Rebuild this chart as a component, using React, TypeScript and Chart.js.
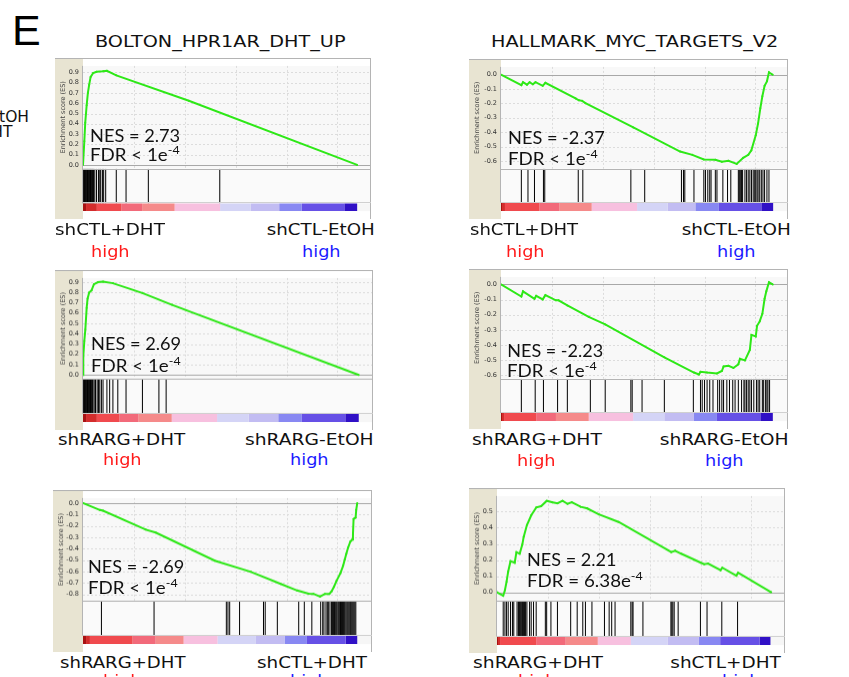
import React, { useEffect, useLayoutEffect, useRef } from 'react';
import { Chart, registerables } from 'chart.js';

Chart.register(...registerables);

// ---------------- DATA ----------------
// Ranks are in thousands of genes in the ordered list.
const titles = ['BOLTON_HPR1AR_DHT_UP', 'HALLMARK_MYC_TARGETS_V2'];

const p1Rank = [0, 0.13, 0.22, 0.36, 0.48, 0.61, 0.75, 1.0, 1.33, 1.97, 2.35, 3.27, 10.4, 26.94];
const p1Es = [0, 0.23, 0.41, 0.58, 0.7, 0.78, 0.856, 0.894, 0.906, 0.911, 0.915, 0.871, 0.624, 0];
const p1Hits = [0.02, 0.08, 0.14, 0.2, 0.26, 0.32, 0.38, 0.44, 0.5, 0.56, 0.62, 0.68, 0.74, 0.8, 0.86, 0.92, 0.98, 1.04,
  1.16, 1.33, 1.52, 1.65, 1.74, 1.91, 2.03, 2.23, 3.27, 4.23, 6.42, 13.44];
const p1Bar = [0, 0.3, 1.36, 3.78, 5.81, 9.0, 13.47, 16.47, 19.28, 21.5, 25.68, 26.94];

const p2Rank = [0, 2.0, 2.16, 2.55, 2.81, 3.13, 3.39, 4.1, 4.36, 7.33, 7.65, 7.98, 8.3, 13.0, 17.6, 18.8, 19.93, 21.06,
  21.7, 22.35, 23.16, 23.8, 24.3, 24.6, 25.03, 25.26, 25.48, 25.68, 25.9, 26.13, 26.33, 26.7];
const p2Es = [0, -0.073, -0.052, -0.069, -0.052, -0.067, -0.052, -0.077, -0.056, -0.165, -0.178, -0.182, -0.198, -0.367,
  -0.535, -0.558, -0.59, -0.593, -0.606, -0.6, -0.621, -0.579, -0.558, -0.527, -0.422, -0.339, -0.234, -0.15, -0.077,
  -0.046, 0.017, 0];
const p2Hits = [2.0, 2.65, 3.29, 4.17, 4.3, 7.59, 8.04, 12.76, 14.12, 17.73, 17.93, 18.06, 18.96, 19.93, 20.09, 20.32,
  20.51, 20.64, 21.06, 21.22, 21.8, 22.26, 22.58, 23.32, 23.42, 23.55, 23.64, 23.74, 23.97, 24.13, 24.29, 24.45, 24.61,
  24.78, 24.93, 25.03, 25.16, 25.26, 25.42, 25.58, 25.74, 25.9, 26.13, 26.33];
const p2Bar = [0, 0.1, 0.39, 3.78, 5.72, 8.91, 13.37, 16.38, 19.1, 21.41, 25.58, 26.74];

const p3Rank = [0, 0.03, 0.13, 0.23, 0.36, 0.45, 0.61, 0.84, 1.07, 1.48, 1.97, 2.94, 5.84, 8.75, 27.1];
const p3Es = [0, 0.18, 0.33, 0.44, 0.65, 0.74, 0.8, 0.82, 0.88, 0.9, 0.906, 0.89, 0.795, 0.68, 0];
const p3Hits = [0.02, 0.08, 0.14, 0.2, 0.26, 0.32, 0.38, 0.44, 0.5, 0.56, 0.62, 0.68, 0.74, 0.8, 0.86, 0.92, 0.98,
  1.1, 1.23, 1.39, 1.52, 1.65, 1.81, 1.97, 2.35, 2.62, 2.94, 3.42, 4.23, 5.84, 7.46, 8.17];
const p3Bar = [0, 0.3, 1.36, 3.59, 5.43, 8.72, 13.18, 16.28, 19.19, 21.51, 25.78, 27.1];

const p4Rank = [0, 2.0, 2.16, 3.29, 3.46, 4.1, 4.36, 5.39, 5.65, 6.52, 8.62, 10.24, 16.05, 18.96, 19.45, 19.6, 20.25,
  21.22, 21.7, 21.87, 22.35, 22.84, 23.32, 23.48, 23.97, 24.45, 24.61, 25.03, 25.16, 25.42, 25.68, 25.9, 26.07, 26.33, 26.7];
const p4Es = [0, -0.08, -0.046, -0.095, -0.075, -0.099, -0.071, -0.105, -0.105, -0.139, -0.214, -0.264, -0.481, -0.581,
  -0.594, -0.576, -0.581, -0.587, -0.571, -0.541, -0.537, -0.551, -0.527, -0.491, -0.501, -0.432, -0.333, -0.343, -0.273,
  -0.244, -0.194, -0.095, -0.046, 0.014, 0];
const p4Hits = [2.0, 3.36, 4.17, 5.56, 6.52, 8.78, 10.24, 12.76, 12.89, 13.86, 16.05, 18.9, 19.6, 19.77, 20.0, 20.25,
  20.51, 20.83, 21.29, 21.48, 21.7, 21.87, 22.19, 22.45, 22.77, 23.0, 23.32, 23.64, 23.87, 23.97, 24.13, 24.29, 24.45,
  24.61, 24.84, 25.1, 25.26, 25.42, 25.68, 25.81, 26.0, 26.13, 26.23, 26.39];
const p4Bar = [0, 0.1, 0.3, 3.46, 5.4, 8.62, 12.98, 16.05, 18.96, 21.22, 25.48, 26.71];

const p5Rank = [0, 1.65, 1.97, 6.17, 7.14, 12.95, 16.5, 19.41, 21.03, 22.16, 22.64, 23.29, 23.77, 24.2, 24.42, 24.65,
  24.9, 25.29, 25.55, 25.71, 25.87, 26.04, 26.26, 26.45, 26.52, 26.58, 26.78, 26.84, 26.94];
const p5Es = [0, -0.06, -0.066, -0.232, -0.258, -0.504, -0.602, -0.707, -0.765, -0.792, -0.794, -0.818, -0.794, -0.794,
  -0.773, -0.733, -0.681, -0.614, -0.549, -0.496, -0.443, -0.39, -0.337, -0.319, -0.272, -0.139, -0.127, -0.06, 0];
const p5Hits = [1.81, 6.98, 14.08, 14.24, 14.41, 15.38, 17.73, 17.9, 19.09, 21.19, 21.74, 22.48, 23.35, 23.55, 23.67,
  23.87, 24.0, 24.1, 24.26, 24.42, 24.5, 24.6, 24.7, 24.78, 24.87, 24.95, 25.05, 25.13, 25.22, 25.3, 25.4, 25.5, 25.58,
  25.67, 25.75, 25.85, 25.95, 26.04, 26.13, 26.22, 26.3, 26.4, 26.5, 26.6, 26.7, 26.8];
const p5Bar = [0, 0.3, 0.68, 4.87, 7.14, 9.88, 13.21, 16.99, 19.8, 22.0, 25.8, 26.94];

const p6Rank = [0, 0.61, 0.78, 0.94, 1.1, 1.33, 1.74, 1.91, 2.23, 2.49, 2.62, 2.94, 3.37, 3.86, 4.34, 4.89, 5.47, 5.95,
  6.44, 6.93, 7.35, 8.22, 8.87, 10.0, 11.95, 17.12, 17.51, 18.1, 20.03, 20.36, 20.74, 21.97, 22.14, 23.52, 23.69, 26.94];
const p6Es = [0, -0.022, 0.013, 0.065, 0.129, 0.193, 0.183, 0.249, 0.239, 0.296, 0.343, 0.417, 0.478, 0.526, 0.534,
  0.567, 0.558, 0.552, 0.567, 0.548, 0.558, 0.53, 0.52, 0.483, 0.436, 0.249, 0.258, 0.239, 0.183, 0.174, 0.178, 0.137,
  0.152, 0.103, 0.121, 0];
const p6Hits = [0.61, 0.78, 0.94, 1.1, 1.33, 1.52, 1.65, 1.97, 2.1, 2.16, 2.23, 2.29, 2.39, 2.49, 2.55, 2.62, 2.71, 2.81,
  2.94, 3.2, 3.36, 3.59, 3.85, 4.75, 4.88, 5.3, 5.94, 7.24, 7.88, 8.43, 8.69, 9.33, 10.56, 11.02, 11.27, 11.6, 13.15,
  13.28, 13.37, 14.34, 17.09, 17.18, 17.28, 17.41, 17.8, 19.99, 20.64, 22.09, 23.64];
const p6Bar = [0, 0.1, 0.3, 3.85, 6.75, 9.9, 13.15, 16.76, 19.84, 21.93, 25.8, 26.87];

const barColors = ['#a81212', '#d42c2c', '#f04a4e', '#f26a7a', '#f58a8a', '#f7c0df', '#d4d4f6', '#c2bcf2', '#8888f2',
  '#6650e6', '#3010c6'];

const ticksPos9 = [0, 0.1, 0.2, 0.3, 0.4, 0.5, 0.6, 0.7, 0.8, 0.9];
const ticksNeg6 = [0, -0.1, -0.2, -0.3, -0.4, -0.5, -0.6];
const ticksNeg8 = [0, -0.1, -0.2, -0.3, -0.4, -0.5, -0.6, -0.7, -0.8];
const ticksPos5 = [0, 0.1, 0.2, 0.3, 0.4, 0.5];
const xGridRanks = [5, 10, 15, 20, 25];

const nesTexts = ['NES = 2.73', 'NES = -2.37', 'NES = 2.69', 'NES = -2.23', 'NES = -2.69', 'NES = 2.21'];
const fdrTexts = ['FDR < 1e', 'FDR < 1e', 'FDR < 1e', 'FDR < 1e', 'FDR < 1e', 'FDR = 6.38e'];
const fdrExp = ['-4', '-4', '-4', '-4', '-4', '-4'];
const leftLabels = ['shCTL+DHT', 'shCTL+DHT', 'shRARG+DHT', 'shRARG+DHT', 'shRARG+DHT', 'shRARG+DHT'];
const rightLabels = ['shCTL-EtOH', 'shCTL-EtOH', 'shRARG-EtOH', 'shRARG-EtOH', 'shCTL+DHT', 'shCTL+DHT'];

// ---------------- STYLE / LAYOUT ----------------
const GREEN = '#2ee817';
const BEIGE = '#e8e4d2';
const DV = '"DejaVu Sans", Verdana, sans-serif';
const LATO = 'Lato, "Open Sans", sans-serif';

type Panel = {
  left: number; top: number; w: number; esH: number; hitsH: number; barH: number; axisW: number;
  xMax: number; yMin: number; yMax: number; yTicks: number[];
  rank: number[]; es: number[]; hits: number[]; bar: number[];
};

const panels: Panel[] = [
  { left: 55, top: 58, w: 320, esH: 114, hitsH: 38.5, barH: 8.5, axisW: 28, xMax: 28.3, yMin: -0.037, yMax: 0.963,
    yTicks: ticksPos9, rank: p1Rank, es: p1Es, hits: p1Hits, bar: p1Bar },
  { left: 469, top: 59, w: 323, esH: 113, hitsH: 37.5, barH: 9.5, axisW: 32, xMax: 28.2, yMin: -0.6548, yMax: 0.0546,
    yTicks: ticksNeg6, rank: p2Rank, es: p2Es, hits: p2Hits, bar: p2Bar },
  { left: 55, top: 270, w: 322, esH: 112, hitsH: 38, barH: 9.5, axisW: 28, xMax: 28.5, yMin: -0.0414, yMax: 0.941,
    yTicks: ticksPos9, rank: p3Rank, es: p3Es, hits: p3Hits, bar: p3Bar },
  { left: 469, top: 269, w: 323, esH: 113, hitsH: 38, barH: 9, axisW: 32, xMax: 28.2, yMin: -0.622, yMax: 0.0493,
    yTicks: ticksNeg6, rank: p4Rank, es: p4Es, hits: p4Hits, bar: p4Bar },
  { left: 53, top: 490, w: 323, esH: 114, hitsH: 38, barH: 9.5, axisW: 30, xMax: 28.39, yMin: -0.858, yMax: 0.0451,
    yTicks: ticksNeg8, rank: p5Rank, es: p5Es, hits: p5Hits, bar: p5Bar },
  { left: 469, top: 488, w: 320, esH: 116, hitsH: 39, barH: 9.5, axisW: 28, xMax: 28.3, yMin: -0.055, yMax: 0.597,
    yTicks: ticksPos5, rank: p6Rank, es: p6Es, hits: p6Hits, bar: p6Bar },
];

// text placement per panel
const nesPos = [
  { x: 90, b1: 141.7, b2: 161, w1: 90 },
  { x: 507.5, b1: 144, b2: 164.5, w1: 97 },
  { x: 90.7, b1: 350, b2: 371.5, w1: 90 },
  { x: 507.3, b1: 356.7, b2: 377.3, w1: 96 },
  { x: 88.3, b1: 573.3, b2: 594, w1: 96.5 },
  { x: 526.7, b1: 566, b2: 587.3, w1: 89.3 },
];
const labelPos = [
  { lx: 55, lw: 110, rx: 375, rw: 108.3, b: 235.7, hlx: 90.7, hrx: 302.3, hb: 257.7 },
  { lx: 470, lw: 108.3, rx: 791, rw: 109.3, b: 236, hlx: 505.7, hrx: 716.7, hb: 257.5 },
  { lx: 58.3, lw: 126.7, rx: 373.3, rw: 129, b: 446, hlx: 103.3, hrx: 290, hb: 466 },
  { lx: 472.3, lw: 129.4, rx: 788.3, rw: 129.3, b: 446, hlx: 517.3, hrx: 705, hb: 466.5 },
  { lx: 60, lw: 125, rx: 366.7, rw: 110, b: 669, hlx: 103.3, hrx: 290, hb: 686.5 },
  { lx: 473.3, lw: 129.4, rx: 780.7, rw: 110.7, b: 669, hlx: 518.3, hrx: 721.7, hb: 686.5 },
];

const framePlugin = {
  id: 'gseaFrame',
  beforeDraw(chart: any, _a: any, opts: any) {
    const { ctx, chartArea: ca, scales } = chart;
    const y = scales.y, yh = scales.yHits, yb = scales.yBar, x = scales.x;
    ctx.save();
    ctx.fillStyle = BEIGE;
    ctx.fillRect(0, 0, ca.left, chart.height);
    ctx.fillStyle = '#f8f8f8';
    ctx.fillRect(ca.left, y.top, ca.right - ca.left, y.bottom - y.top);
    ctx.fillStyle = '#fafafa';
    ctx.fillRect(ca.left, yh.top, ca.right - ca.left, yh.bottom - yh.top);
    ctx.fillStyle = '#f6f6f6';
    ctx.fillRect(ca.left, yb.top, ca.right - ca.left, yb.bottom - yb.top);
    ctx.lineWidth = 1;
    ctx.strokeStyle = '#dcdcdc';
    ctx.setLineDash([2, 2]);
    (opts.yTicks as number[]).forEach((v) => {
      if (v === 0) return;
      const py = Math.round(y.getPixelForValue(v)) + 0.5;
      ctx.beginPath(); ctx.moveTo(ca.left, py); ctx.lineTo(ca.right, py); ctx.stroke();
    });
    (opts.xGrid as number[]).forEach((v) => {
      const px = Math.round(x.getPixelForValue(v)) + 0.5;
      ctx.beginPath(); ctx.moveTo(px, y.top); ctx.lineTo(px, y.bottom); ctx.stroke();
    });
    ctx.setLineDash([]);
    ctx.strokeStyle = '#a8a8a8';
    const pz = Math.round(y.getPixelForValue(0)) + 0.5;
    ctx.beginPath(); ctx.moveTo(ca.left, pz); ctx.lineTo(ca.right, pz); ctx.stroke();
    ctx.restore();
  },
  afterDatasetsDraw(chart: any) {
    const { ctx, chartArea: ca, scales } = chart;
    const y = scales.y, yh = scales.yHits;
    ctx.save();
    ctx.lineWidth = 1;
    ctx.strokeStyle = '#b4b4b4';
    ctx.beginPath();
    ctx.moveTo(0, 0.5); ctx.lineTo(ca.right, 0.5);
    ctx.moveTo(ca.right - 0.5, 0); ctx.lineTo(ca.right - 0.5, chart.height);
    ctx.moveTo(ca.left - 0.5, y.top); ctx.lineTo(ca.left - 0.5, yh.bottom);
    ctx.moveTo(ca.left, Math.round(y.bottom) + 0.5); ctx.lineTo(ca.right, Math.round(y.bottom) + 0.5);
    ctx.stroke();
    ctx.strokeStyle = '#d0d0d0';
    ctx.beginPath();
    ctx.moveTo(ca.left, Math.round(yh.bottom) - 0.5); ctx.lineTo(ca.right, Math.round(yh.bottom) - 0.5);
    ctx.stroke();
    ctx.restore();
  },
};

function GseaPanel({ p }: { p: Panel }) {
  const ref = useRef<HTMLCanvasElement>(null);
  const h = p.esH + p.hitsH + p.barH;
  useEffect(() => {
    if (!ref.current) return;
    const esData = p.rank.map((x, i) => ({ x, y: p.es[i] }));
    const hitData: any[] = [];
    p.hits.forEach((r) => { hitData.push({ x: r, y: 0 }, { x: r, y: 1 }, { x: r, y: null }); });
    const barSets = barColors.map((c, i) => ({
      data: [{ x: p.bar[i], y: 0.5 }, { x: p.bar[i + 1], y: 0.5 }],
      yAxisID: 'yBar', borderColor: c, borderWidth: p.barH + 1, borderCapStyle: 'butt',
      pointRadius: 0, fill: false,
    }));
    const fitW = (s: any) => { s.width = p.axisW; };
    const chart = new Chart(ref.current, {
      type: 'line',
      data: {
        datasets: [
          ...barSets,
          { data: hitData, yAxisID: 'yHits', borderColor: '#000', borderWidth: 1, pointRadius: 0, spanGaps: false, fill: false },
          { data: esData, yAxisID: 'y', borderColor: GREEN, borderWidth: 2, pointRadius: 1, pointBorderWidth: 0,
            pointBackgroundColor: GREEN, fill: false, tension: 0 },
        ] as any,
      },
      options: {
        animation: false, responsive: false, devicePixelRatio: 1,
        layout: { padding: 0 },
        events: [],
        plugins: { legend: { display: false }, tooltip: { enabled: false },
          gseaFrame: { yTicks: p.yTicks, xGrid: xGridRanks } } as any,
        scales: {
          x: { type: 'linear', min: 0, max: p.xMax, display: false },
          yBar: { type: 'linear', position: 'left', stack: 'g', stackWeight: p.barH, weight: 1, min: 0, max: 1,
            ticks: { display: false }, grid: { display: false, drawTicks: false }, border: { display: false }, afterFit: fitW },
          yHits: { type: 'linear', position: 'left', stack: 'g', stackWeight: p.hitsH, weight: 2, min: 0, max: 1,
            ticks: { display: false }, grid: { display: false, drawTicks: false }, border: { display: false }, afterFit: fitW },
          y: { type: 'linear', position: 'left', stack: 'g', stackWeight: p.esH, weight: 3, min: p.yMin, max: p.yMax,
            afterBuildTicks: (s: any) => { s.ticks = p.yTicks.map((v) => ({ value: v })); },
            afterFit: fitW,
            grid: { display: false, drawTicks: false }, border: { display: false },
            ticks: { autoSkip: false, padding: 4, color: '#333', font: { size: 6.5, family: DV },
              callback: (v: any) => Number(v).toFixed(1) },
            title: { display: true, text: 'Enrichment score (ES)', color: '#444', font: { size: 6.5, family: DV },
              padding: { top: 4, bottom: 0 } } },
        } as any,
      },
      plugins: [framePlugin as any],
    });
    return () => chart.destroy();
  }, [p]);
  return (
    <canvas ref={ref} width={p.w} height={h}
      style={{ position: 'absolute', left: p.left, top: p.top, width: p.w, height: h, display: 'block' }} />
  );
}

// baseline offsets (fraction of font size) for line-height = font-size
const K: Record<string, number> = { dv: 0.846, lato: 0.887, lib: 0.8465 };

function Txt(props: { x?: number; right?: number; base: number; size: number; fam: 'dv' | 'lato' | 'lib';
  color?: string; w?: number; sx?: number; children: React.ReactNode }) {
  const { x, right, base, size, fam, color = '#111', w, sx, children } = props;
  const ref = useRef<HTMLDivElement>(null);
  useLayoutEffect(() => {
    const el = ref.current;
    if (!el) return;
    const apply = () => {
      let s = sx || 1;
      if (w) { const nat = el.offsetWidth; if (nat > 0) s = w / nat; }
      el.style.transform = `scaleX(${s})`;
    };
    apply();
    if ((document as any).fonts && (document as any).fonts.ready) (document as any).fonts.ready.then(apply);
  }, [w, sx]);
  const family = fam === 'dv' ? DV : fam === 'lato' ? LATO : '"Liberation Sans", Arial, sans-serif';
  const style: React.CSSProperties = {
    position: 'absolute', top: base - K[fam] * size, fontFamily: family, fontSize: size, lineHeight: `${size}px`,
    whiteSpace: 'nowrap', color, transformOrigin: right != null ? 'right top' : 'left top',
  };
  if (right != null) style.right = 849 - right; else style.left = x;
  return <div ref={ref} style={style}>{children}</div>;
}

export default function App() {
  return (
    <div style={{ position: 'absolute', left: 0, top: 0, width: 849, height: 677, overflow: 'hidden', background: '#fff' }}>
      {panels.map((p, i) => <GseaPanel key={i} p={p} />)}
      <Txt x={12} base={45} size={43} fam="lib" color="#000">E</Txt>
      <Txt right={29} base={122.7} size={15.5} fam="dv" sx={1}>shCTL-EtOH</Txt>
      <Txt right={12.5} base={138} size={15.5} fam="dv" sx={1}>shCTL+DHT</Txt>
      <Txt x={95} base={47.7} size={16.5} fam="dv" w={250}>{titles[0]}</Txt>
      <Txt x={490.7} base={47.7} size={16.5} fam="dv" w={287.6}>{titles[1]}</Txt>
      {nesPos.map((n, i) => (
        <React.Fragment key={'n' + i}>
          <Txt x={n.x} base={n.b1} size={18} fam="lato" w={n.w1}>{nesTexts[i]}</Txt>
          <Txt x={n.x} base={n.b2} size={18} fam="lato" sx={1.04}>
            {fdrTexts[i]}<span style={{ fontSize: 12, position: 'relative', top: -7 }}>{fdrExp[i]}</span>
          </Txt>
        </React.Fragment>
      ))}
      {labelPos.map((l, i) => (
        <React.Fragment key={'l' + i}>
          <Txt x={l.lx} base={l.b} size={16.5} fam="dv" w={l.lw}>{leftLabels[i]}</Txt>
          <Txt right={l.rx} base={l.b} size={16.5} fam="dv" w={l.rw}>{rightLabels[i]}</Txt>
          <Txt x={l.hlx} base={l.hb} size={16.5} fam="dv" color="#ff1a1a" w={38.6}>high</Txt>
          <Txt x={l.hrx} base={l.hb} size={16.5} fam="dv" color="#1a1aff" w={38.6}>high</Txt>
        </React.Fragment>
      ))}
    </div>
  );
}
